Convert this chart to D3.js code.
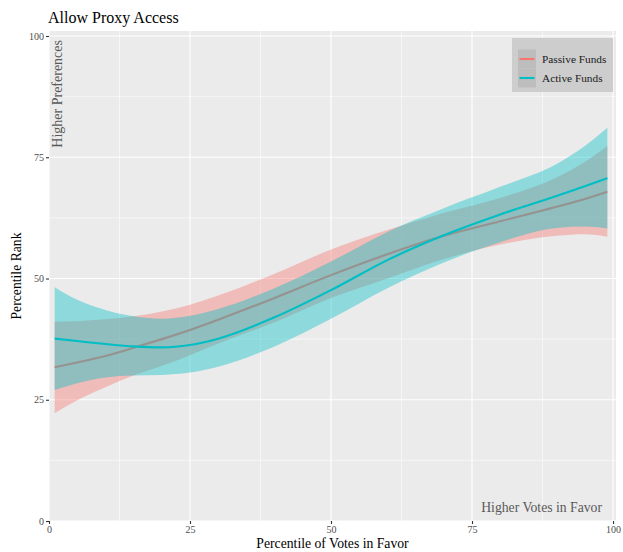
<!DOCTYPE html>
<html>
<head>
<meta charset="utf-8">
<script src="https://cdn.jsdelivr.net/npm/d3@7"></script>
<style>
  html, body { margin: 0; padding: 0; background: #ffffff; }
  svg { display: block; }
  text { font-family: "Liberation Serif", "DejaVu Serif", serif; }
</style>
</head>
<body>
<svg id="chart" width="623" height="552"></svg>
<script>
// Smoothed fits (loess-style) of percentile rank against percentile of votes in favor
const xs = [1, 5, 10, 15, 20, 25, 30, 40, 50, 60, 70, 80, 90, 95, 99];

const passiveFit   = [31.7, 32.7, 34.0, 35.7, 37.5, 39.4, 41.5, 46.0, 50.7, 55.0, 58.8, 61.8, 64.8, 66.4, 67.9];
const passiveUpper = [41.1, 41.2, 41.6, 42.2, 43.2, 44.6, 46.5, 51.0, 56.0, 60.0, 63.5, 66.6, 70.8, 74.0, 77.3];
const passiveLower = [22.2, 24.9, 27.6, 30.0, 32.0, 34.2, 36.6, 41.0, 46.0, 50.0, 54.0, 57.0, 58.8, 59.1, 58.6];

const activeFit   = [37.6, 37.1, 36.5, 36.0, 35.8, 36.3, 37.6, 42.0, 47.6, 53.8, 58.9, 63.2, 67.0, 69.0, 70.7];
const activeUpper = [48.2, 45.6, 43.5, 42.2, 41.7, 42.3, 43.7, 48.0, 53.5, 59.6, 64.5, 68.9, 73.6, 77.3, 81.1];
const activeLower = [27.0, 28.4, 29.6, 30.0, 30.1, 30.6, 31.8, 36.0, 41.7, 48.0, 53.3, 57.5, 60.4, 60.7, 60.3];

const seriesNames = ["Passive Funds", "Active Funds"];
const seriesColors = ["#F8766D", "#00BFC4"];
const xTicks = [0, 25, 50, 75, 100];
const yTicks = [0, 25, 50, 75, 100];
const xMinor = [12.5, 37.5, 62.5, 87.5];
const yMinor = [12.5, 37.5, 62.5, 87.5];

const svg = d3.select("#chart");

const panel = { left: 49, right: 616, top: 31, bottom: 521 };
const x = d3.scaleLinear().domain([0, 100]).range([49, 613]);
const y = d3.scaleLinear().domain([0, 100]).range([521, 36]);

// Panel background
svg.append("rect")
  .attr("x", panel.left).attr("y", panel.top)
  .attr("width", panel.right - panel.left)
  .attr("height", panel.bottom - panel.top)
  .attr("fill", "#EBEBEB");

const grid = svg.append("g");
// minor grid
grid.selectAll(".vmin").data(xMinor).join("line")
  .attr("x1", d => x(d)).attr("x2", d => x(d))
  .attr("y1", panel.top).attr("y2", panel.bottom)
  .attr("stroke", "#ffffff").attr("stroke-width", 0.55);
grid.selectAll(".hmin").data(yMinor).join("line")
  .attr("y1", d => y(d)).attr("y2", d => y(d))
  .attr("x1", panel.left).attr("x2", panel.right)
  .attr("stroke", "#ffffff").attr("stroke-width", 0.55);
// major grid
grid.selectAll(".vmaj").data(xTicks).join("line")
  .attr("x1", d => x(d)).attr("x2", d => x(d))
  .attr("y1", panel.top).attr("y2", panel.bottom)
  .attr("stroke", "#ffffff").attr("stroke-width", 1.1);
grid.selectAll(".hmaj").data(yTicks).join("line")
  .attr("y1", d => y(d)).attr("y2", d => y(d))
  .attr("x1", panel.left).attr("x2", panel.right)
  .attr("stroke", "#ffffff").attr("stroke-width", 1.1);

// Series: ribbon then line for each group, passive first
const series = [
  { fit: passiveFit, lo: passiveLower, hi: passiveUpper },
  { fit: activeFit, lo: activeLower, hi: activeUpper }
];
const curve = d3.curveMonotoneX;
const area = d3.area()
  .x(d => x(d.x)).y0(d => y(d.lo)).y1(d => y(d.hi)).curve(curve);
const line = d3.line()
  .x(d => x(d.x)).y(d => y(d.v)).curve(curve);

series.forEach((s, i) => {
  const pts = xs.map((xv, j) => ({ x: xv, v: s.fit[j], lo: s.lo[j], hi: s.hi[j] }));
  svg.append("path").datum(pts)
    .attr("d", area)
    .attr("fill", seriesColors[i]).attr("fill-opacity", 0.4);
  svg.append("path").datum(pts)
    .attr("d", line)
    .attr("fill", "none")
    .attr("stroke", seriesColors[i]).attr("stroke-width", 2.1);
});

// Axes
const xAxis = svg.append("g")
  .attr("transform", `translate(0,${panel.bottom})`)
  .call(d3.axisBottom(x).tickValues(xTicks).tickSize(3).tickPadding(2).tickFormat(d3.format("d")));
const yAxis = svg.append("g")
  .attr("transform", `translate(${panel.left},0)`)
  .call(d3.axisLeft(y).tickValues(yTicks).tickSize(3).tickPadding(2).tickFormat(d3.format("d")));
[xAxis, yAxis].forEach(g => {
  g.select(".domain").remove();
  g.selectAll(".tick line").attr("stroke", "#333333").attr("stroke-width", 1.1);
  g.selectAll(".tick text").attr("fill", "#4D4D4D")
    .style("font-size", "10px")
    .style("font-family", "'Liberation Serif', 'DejaVu Serif', serif");
});

// Annotations inside panel
svg.append("text")
  .attr("transform", `translate(62,40) rotate(-90)`)
  .attr("text-anchor", "end")
  .attr("fill", "#595959")
  .style("font-size", "14px")
  .text("Higher Preferences");

svg.append("text")
  .attr("x", 602).attr("y", 512)
  .attr("text-anchor", "end")
  .attr("fill", "#595959")
  .style("font-size", "13.7px")
  .text("Higher Votes in Favor");

// Title and axis titles
svg.append("text")
  .attr("x", 48).attr("y", 23)
  .attr("fill", "#000000")
  .style("font-size", "16px")
  .text("Allow Proxy Access");

svg.append("text")
  .attr("x", (panel.left + panel.right) / 2).attr("y", 548)
  .attr("text-anchor", "middle")
  .attr("fill", "#000000")
  .style("font-size", "13.7px")
  .text("Percentile of Votes in Favor");

svg.append("text")
  .attr("transform", `translate(21,${(panel.top + panel.bottom) / 2}) rotate(-90)`)
  .attr("text-anchor", "middle")
  .attr("fill", "#000000")
  .style("font-size", "13.7px")
  .text("Percentile Rank");

// Legend
const legend = svg.append("g").attr("transform", "translate(512,38)");
legend.append("rect")
  .attr("x", 0).attr("y", 0).attr("width", 101).attr("height", 54)
  .attr("fill", "#CDCDCD");
seriesNames.forEach((name, i) => {
  const ky = 11.5 + i * 19;
  legend.append("rect")
    .attr("x", 6).attr("y", ky).attr("width", 18).attr("height", 19)
    .attr("fill", "#BDBDBD");
  legend.append("line")
    .attr("x1", 7.5).attr("x2", 22.5)
    .attr("y1", ky + 9.5).attr("y2", ky + 9.5)
    .attr("stroke", seriesColors[i]).attr("stroke-width", 2.1);
  legend.append("text")
    .attr("x", 30).attr("y", ky + 13)
    .attr("fill", "#1A1A1A")
    .style("font-size", "11.3px")
    .text(name);
});
</script>
</body>
</html>
